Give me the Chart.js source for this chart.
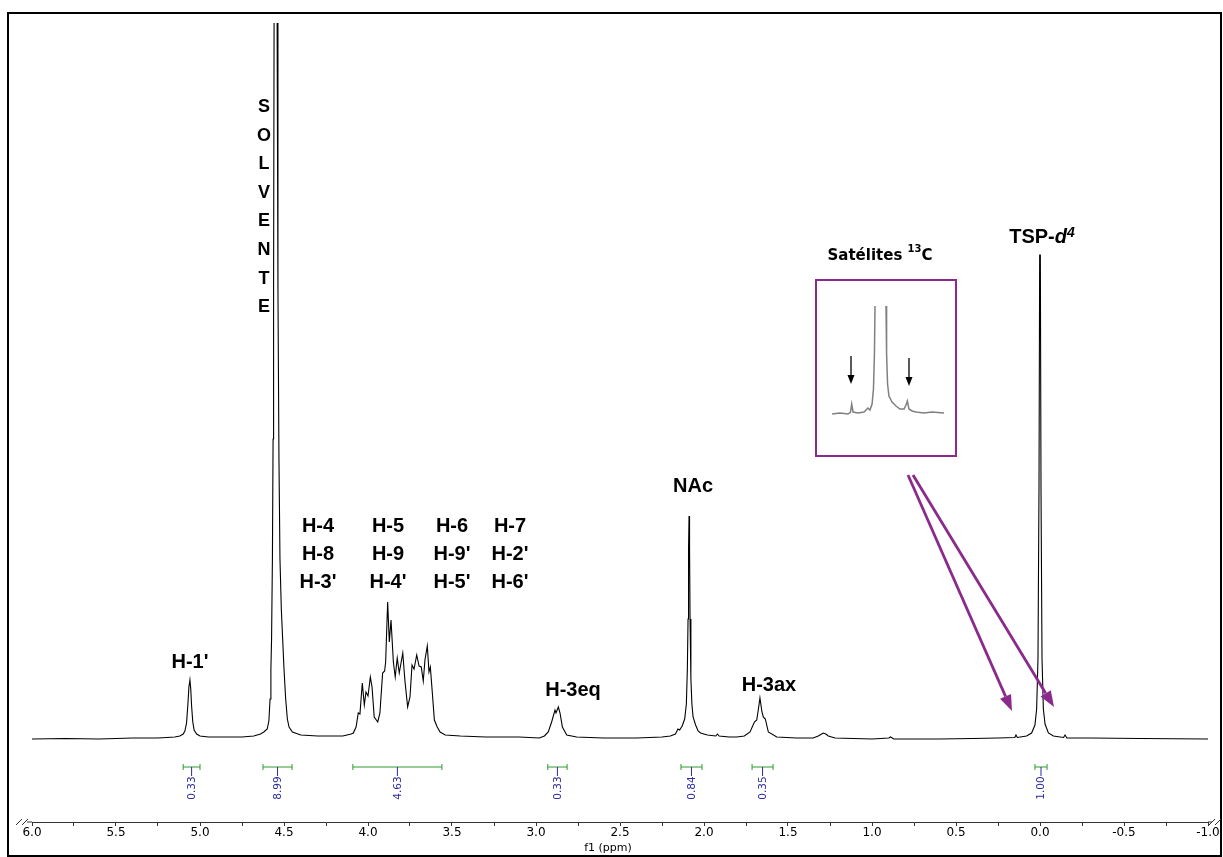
<!DOCTYPE html>
<html><head><meta charset="utf-8">
<script src="https://cdn.jsdelivr.net/npm/chart.js@4.4.0/dist/chart.umd.min.js"></script>
<style>
html,body{margin:0;padding:0;background:#fff;}
#wrap{position:relative;width:1223px;height:857px;overflow:hidden;}
#main{position:absolute;left:0;top:0;}
#inset{position:absolute;left:817px;top:281px;}
</style></head><body>
<div id="wrap">
<canvas id="main" width="1223" height="857"></canvas>
<canvas id="inset" width="138" height="174"></canvas>
</div>
<script>
// ---- Data: 1H NMR spectrum (chemical shift in ppm, relative intensity) ----
const spectrumPpm = [
 6.00,5.80,5.60,5.40,5.25,5.15,5.12,5.10,5.09,5.08,5.072,5.066,5.06,5.055,5.05,5.043,5.035,5.02,5.00,4.95,4.85,4.75,
 4.68,4.64,4.62,4.60,4.59,4.583,4.578,4.574,4.569,4.565,4.562,4.559,4.550,4.541,4.536,4.530,4.524,4.516,4.508,4.50,4.49,4.48,4.47,4.45,4.40,4.30,4.20,4.15,4.10,
 4.0875,4.071,4.058,4.048,4.034,4.022,4.012,4.000,3.986,3.976,3.963,3.942,3.929,3.913,3.901,3.895,3.883,3.873,3.863,3.849,3.838,3.826,3.814,3.793,3.780,3.764,3.750,3.738,3.726,3.710,3.696,3.683,3.671,3.661,3.647,3.637,3.629,3.617,3.605,3.588,3.571,3.54,3.45,3.30,3.10,
 2.98,2.95,2.927,2.907,2.887,2.881,2.867,2.857,2.843,2.817,2.758,2.60,2.40,2.25,
 2.20,2.17,2.155,2.145,2.13,2.115,2.105,2.099,2.095,2.092,2.089,2.086,2.083,2.078,2.072,2.065,2.05,2.035,2.02,1.98,1.93,1.92,1.91,1.85,
 1.805,1.76,1.726,1.700,1.686,1.677,1.667,1.655,1.647,1.635,1.617,1.567,1.45,1.35,1.32,1.30,1.29,1.275,1.26,1.22,1.00,0.90,0.89,0.87,0.60,0.40,
 0.25,0.15,0.143,0.135,0.08,0.05,0.03,0.02,0.012,0.006,0.002,-0.002,-0.006,-0.012,-0.02,-0.03,-0.05,-0.08,-0.14,-0.149,-0.16,-0.30,-0.60,-1.00
];
const spectrumIntensity = [
 0,0.5,0,1,1,2,3,5,8,16,35,52,59,50,33,17,9,5,3,2,2,2,
 3,5,7,10,18,40,70,100,180,300,450,720,1600,720,450,280,180,130,100,70,40,20,12,7,4,3,3,3,5,
 6,12,26,25,56,34,47,43,62,52,22,17,26,66,68,77,137,97,119,77,62,81,66,86,58,32,42,74,70,84,73,72,58,79,93,67,72,46,19,12,7,4,3,2,2,
 1,3,7,17,29,26,32,26,12,4,2,1,1,2,
 3,5,10,9,13,20,35,70,120,190,223,190,120,60,35,22,14,8,6,4,3,5,3,2,
 2,3,7,17,19,29,41,27,22,20,7,2,1,1,3,5,6,5,3,1,0,1,2,0,0,0.5,
 1,1.5,4,1.5,3,6,14,30,80,250,484,484,250,80,30,15,6,3,1.5,4,1,1,0.5,0
];
// Integrals (ppm ranges and values)
const integralFrom = [5.10, 4.625, 4.09, 2.93, 2.137, 1.714, 0.03];
const integralTo   = [5.00, 4.452, 3.56, 2.815, 2.012, 1.589, -0.042];
const integralValues = ['0.33','8.99','4.63','0.33','0.84','0.35','1.00'];
// Inset: TSP-d4 signal with 13C satellites (null = clipped top)
const insetPpm = [0.247,0.207,0.166,0.153,0.147,0.140,0.115,0.084,0.064,0.054,0.043,0.036,0.031,0.028,0.0,-0.028,-0.031,-0.036,-0.043,-0.059,-0.079,-0.099,-0.120,-0.130,-0.137,-0.145,-0.161,-0.181,-0.222,-0.263,-0.324];
const insetIntensity = [0,1,0,2,10,2,1,2,6,4,10,25,60,108,null,108,60,30,18,12,8,5,5,9,13,5,3,2,1,2,1];

const PURPLE = '#8a2b8c';

function arrow(ctx, x1, y1, x2, y2, color, lw, headLen, headW){
  const a = Math.atan2(y2-y1, x2-x1);
  const bx = x2 - headLen*Math.cos(a), by = y2 - headLen*Math.sin(a);
  ctx.save();
  ctx.strokeStyle = color; ctx.fillStyle = color; ctx.lineWidth = lw;
  ctx.beginPath(); ctx.moveTo(x1,y1); ctx.lineTo(bx,by); ctx.stroke();
  ctx.beginPath();
  ctx.moveTo(x2,y2);
  ctx.lineTo(bx + headW*Math.sin(a), by - headW*Math.cos(a));
  ctx.lineTo(bx - headW*Math.sin(a), by + headW*Math.cos(a));
  ctx.closePath(); ctx.fill();
  ctx.restore();
}

const annotations = {
  id: 'annotations',
  afterDraw(chart){
    const ctx = chart.ctx;
    const xs = chart.scales.x, ys = chart.scales.y;
    ctx.save();
    // outer frame
    ctx.strokeStyle = '#000'; ctx.lineWidth = 2;
    ctx.strokeRect(8, 13, 1213, 843);

    // axis break marks
    ctx.strokeStyle = '#333'; ctx.lineWidth = 1;
    const axY = chart.chartArea.bottom;
    [[19,0],[25,0],[1212,0],[1218,0]].forEach(p=>{
      ctx.beginPath(); ctx.moveTo(p[0]-3, axY+3); ctx.lineTo(p[0]+3, axY-3); ctx.stroke();
    });
    ctx.beginPath(); ctx.moveTo(27, axY); ctx.lineTo(32, axY); ctx.stroke();
    ctx.beginPath(); ctx.moveTo(1208, axY); ctx.lineTo(1212, axY); ctx.stroke();

    // axis title
    ctx.fillStyle = '#000'; ctx.font = '11px "DejaVu Sans"';
    ctx.textAlign = 'center'; ctx.textBaseline = 'middle';
    ctx.fillText('f1 (ppm)', 608, 848);

    // integrals
    const yBr = ys.getPixelForValue(-28);
    for (let i = 0; i < integralFrom.length; i++){
      const xa = xs.getPixelForValue(integralFrom[i]);
      const xb = xs.getPixelForValue(integralTo[i]);
      const xc = (xa+xb)/2;
      ctx.strokeStyle = '#2e9a2e'; ctx.lineWidth = 1;
      ctx.beginPath(); ctx.moveTo(xa, yBr); ctx.lineTo(xb, yBr);
      ctx.moveTo(xa, yBr-3); ctx.lineTo(xa, yBr+3);
      ctx.moveTo(xb, yBr-3); ctx.lineTo(xb, yBr+3); ctx.stroke();
      ctx.strokeStyle = '#2b2b9e';
      ctx.beginPath(); ctx.moveTo(xc, yBr); ctx.lineTo(xc, yBr+9); ctx.stroke();
      ctx.save();
      ctx.translate(xc, yBr+21); ctx.rotate(-Math.PI/2);
      ctx.fillStyle = '#2b2b9e'; ctx.font = '10.5px "DejaVu Sans"';
      ctx.textAlign = 'center'; ctx.textBaseline = 'middle';
      ctx.fillText(integralValues[i], 0, 0.5);
      ctx.restore();
    }

    // peak labels
    ctx.fillStyle = '#000';
    ctx.textAlign = 'center'; ctx.textBaseline = 'middle';
    ctx.font = 'bold 18px "Liberation Sans"';
    'SOLVENTE'.split('').forEach((ch, i) => ctx.fillText(ch, 264, 107 + i*28.6));
    ctx.font = 'bold 20px "Liberation Sans"';
    const cols = [[318,['H-4','H-8',"H-3'"]],[388,['H-5','H-9',"H-4'"]],[452,['H-6',"H-9'","H-5'"]],[510,['H-7',"H-2'","H-6'"]]];
    cols.forEach(c => c[1].forEach((t, j) => ctx.fillText(t, c[0], 526 + j*28)));
    ctx.fillText("H-1'", 190, 662);
    ctx.fillText('H-3eq', 573, 690);
    ctx.fillText('NAc', 693, 486);
    ctx.fillText('H-3ax', 769, 685);
    // TSP-d4
    ctx.textAlign = 'left';
    const t1 = 'TSP-';
    ctx.font = 'bold 20px "Liberation Sans"';
    const w1 = ctx.measureText(t1).width;
    ctx.font = 'italic bold 20px "Liberation Sans"';
    const w2 = ctx.measureText('d').width;
    ctx.font = 'italic bold 14px "Liberation Sans"';
    const w3 = ctx.measureText('4').width;
    let x0 = 1042 - (w1+w2+w3)/2;
    ctx.font = 'bold 20px "Liberation Sans"'; ctx.fillText(t1, x0, 237);
    ctx.font = 'italic bold 20px "Liberation Sans"'; ctx.fillText('d', x0+w1, 237);
    ctx.font = 'italic bold 14px "Liberation Sans"'; ctx.fillText('4', x0+w1+w2, 233);

    // Satélites 13C title
    ctx.font = 'bold 15px "DejaVu Sans"';
    const s1 = 'Satélites ', sw1 = ctx.measureText(s1).width, sw3 = ctx.measureText('C').width;
    ctx.font = 'bold 10px "DejaVu Sans"';
    const sw2 = ctx.measureText('13').width;
    let sx = 880 - (sw1+sw2+sw3)/2;
    ctx.font = 'bold 15px "DejaVu Sans"'; ctx.fillText(s1, sx, 256);
    ctx.font = 'bold 10px "DejaVu Sans"'; ctx.fillText('13', sx+sw1, 249);
    ctx.font = 'bold 15px "DejaVu Sans"'; ctx.fillText('C', sx+sw1+sw2, 256);

    // inset box
    ctx.strokeStyle = PURPLE; ctx.lineWidth = 2;
    ctx.strokeRect(816, 280, 140, 176);
    // inset arrows
    arrow(ctx, 851, 356, 851, 384, '#000', 1.3, 9, 3.5);
    arrow(ctx, 909, 358, 909, 386, '#000', 1.3, 9, 3.5);
    // purple arrows
    arrow(ctx, 908, 475, 1012, 711, PURPLE, 2.8, 16, 6);
    arrow(ctx, 913, 475, 1054, 707, PURPLE, 2.8, 16, 6);
    ctx.restore();
  }
};

new Chart(document.getElementById('main'), {
  type: 'line',
  data: { datasets: [{
    data: spectrumPpm.map((x, i) => ({x, y: spectrumIntensity[i]})),
    borderColor: '#000', borderWidth: 1.1, pointRadius: 0, tension: 0, fill: false
  }]},
  options: {
    responsive: false, animation: false, events: [],
    layout: { padding: { left: 32, right: 15, top: 23, bottom: 0 } },
    plugins: { legend: { display: false }, tooltip: { enabled: false } },
    scales: {
      x: {
        type: 'linear', reverse: true, min: -1, max: 6,
        afterFit(s){ s.height = 35; },
        ticks: {
          stepSize: 0.25, autoSkip: false, maxRotation: 0, padding: 0, color: '#000',
          font: { family: 'DejaVu Sans', size: 12 },
          callback(v){ const d = v*2; return Math.abs(d - Math.round(d)) < 1e-6 ? (Math.round(d)/2).toFixed(1) : ''; }
        },
        grid: { drawOnChartArea: false, drawTicks: true, tickLength: 4, color: '#333' },
        border: { display: true, color: '#333', width: 1 }
      },
      y: { display: false, min: -83, max: 716 }
    }
  },
  plugins: [annotations]
});

new Chart(document.getElementById('inset'), {
  type: 'line',
  data: { datasets: [{
    data: insetPpm.map((x, i) => ({x, y: insetIntensity[i]})),
    borderColor: '#808080', borderWidth: 1.5, pointRadius: 0, tension: 0, spanGaps: false, fill: false
  }]},
  options: {
    responsive: false, animation: false, events: [],
    layout: { padding: 0 },
    plugins: { legend: { display: false }, tooltip: { enabled: false } },
    scales: {
      x: { type: 'linear', display: false, reverse: true, min: -0.380, max: 0.324 },
      y: { display: false, min: -41, max: 133 }
    }
  }
});
</script>
</body></html>
